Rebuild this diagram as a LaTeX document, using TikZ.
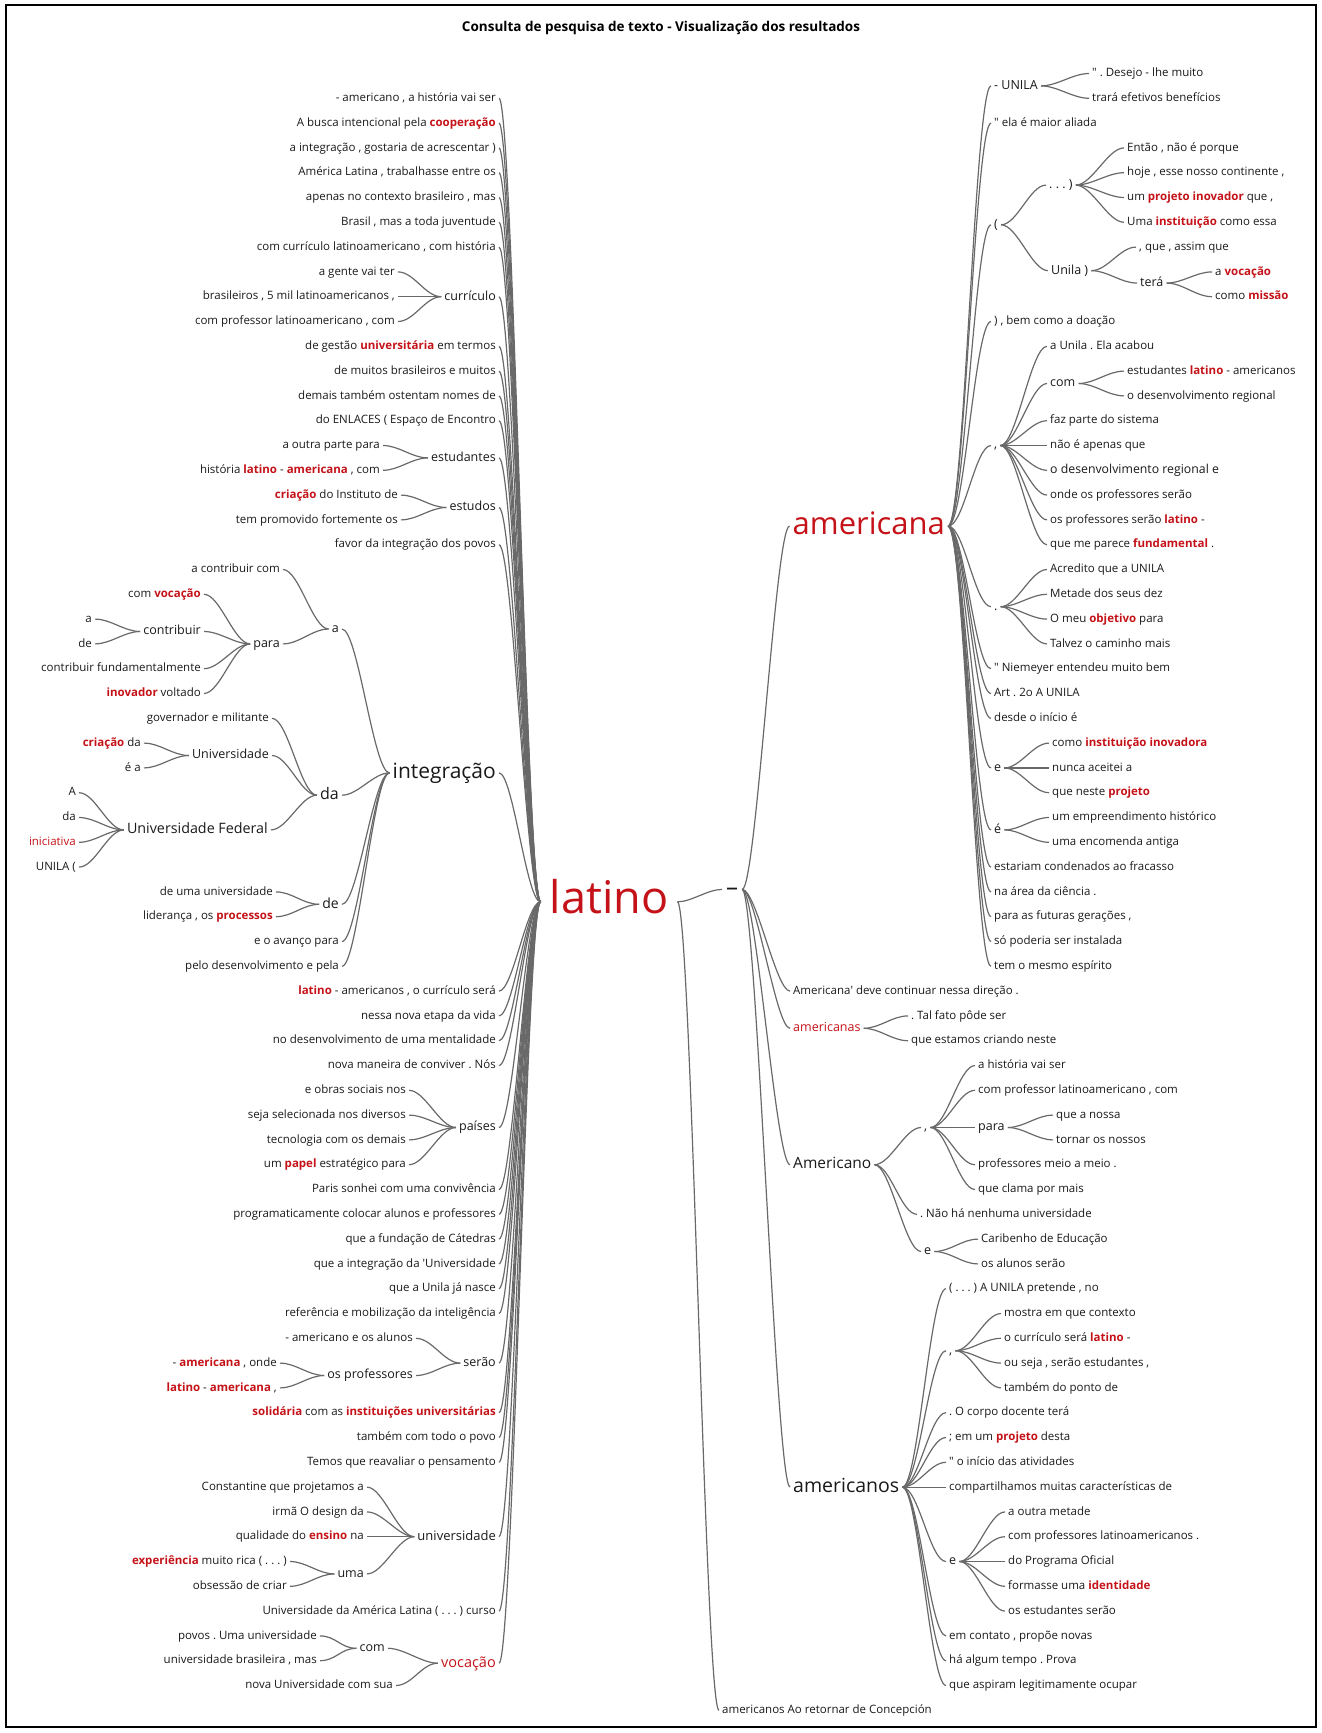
\documentclass[tikz,border=0pt]{standalone}
\usepackage{fontspec}
\setmainfont{Open Sans}
\definecolor{ink}{RGB}{25,25,25}
\definecolor{hot}{RGB}{196,18,24}
\definecolor{wire}{RGB}{105,105,105}
\newcommand\kw[1]{\textcolor{hot}{\textbf{#1}}}

\begin{document}
\frenchspacing
\begin{tikzpicture}[x=1pt, y=-24.8pt,
  every node/.style={inner xsep=3pt, inner ysep=0pt, text=ink},
  sz/.style n args={3}{font=\fontsize{#1}{#1}\selectfont, text height=#2pt, text depth=#3pt},
  leaf/.style={sz={11.5}{8.6}{2.4}},
  hub/.style={sz={12.5}{9.4}{2.6}},
  lt/.style={leaf, anchor=east},
  rt/.style={leaf, anchor=west},
  toL/.style={to path={.. controls +(-#1,0) and +(#1,0) .. (\tikztotarget)}}, toL/.default=14,
  toR/.style={to path={.. controls +(#1,0) and +(-#1,0) .. (\tikztotarget)}}, toR/.default=14,
  every edge/.style={draw=wire, line width=1.2pt}]
  \useasboundingbox (0pt,0pt) rectangle (1322pt,-1733pt);
  \draw[line width=1.5pt] (6pt,-5pt) rectangle (1316pt,-1727pt);
  \node[font=\bfseries\fontsize{13.5}{15}\selectfont, text=black] (title) at (661pt,-28pt)
    {Consulta de pesquisa de texto - Visualização dos resultados};

  \begin{scope}[yshift=-73.5pt]
  \node[sz={45}{33.8}{9.5}, text=hot, inner xsep=9pt] (latino) at (609,33.4) {latino};
  \node[sz={24}{18}{5}, inner xsep=4pt] (dash) at (732,32.9) {–};

  \node[lt] (L1) at (499,1) {- americano , a história vai ser};
  \node[lt] (L2) at (499,2) {A busca intencional pela \kw{cooperação}};
  \node[lt] (L3) at (499,3) {a integração , gostaria de acrescentar )};
  \node[lt] (L4) at (499,4) {América Latina , trabalhasse entre os};
  \node[lt] (L5) at (499,5) {apenas no contexto brasileiro , mas};
  \node[lt] (L6) at (499,6) {Brasil , mas a toda juventude};
  \node[lt] (L7) at (499,7) {com currículo latinoamericano , com história};
  \node[hub, anchor=east] (curriculo) at (499,9) {currículo};
  \node[lt] (cur1) at (398,8) {a gente vai ter};
  \node[lt] (cur2) at (398,9) {brasileiros , 5 mil latinoamericanos ,};
  \node[lt] (cur3) at (398,10) {com professor latinoamericano , com};
  \node[lt] (L11) at (499,11) {de gestão \kw{universitária} em termos};
  \node[lt] (L12) at (499,12) {de muitos brasileiros e muitos};
  \node[lt] (L13) at (499,13) {demais também ostentam nomes de};
  \node[lt] (L14) at (499,14) {do ENLACES ( Espaço de Encontro};
  \node[hub, anchor=east] (estudantes) at (499,15.5) {estudantes};
  \node[lt] (est1) at (383,15) {a outra parte para};
  \node[lt] (est2) at (383,16) {história \kw{latino} - \kw{americana} , com};
  \node[hub, anchor=east] (estudos) at (499,17.5) {estudos};
  \node[lt] (stu1) at (401,17) {\kw{criação} do Instituto de};
  \node[lt] (stu2) at (401,18) {tem promovido fortemente os};
  \node[lt] (L19) at (499,19) {favor da integração dos povos};
  \node[sz={21}{15.7}{4.4}, anchor=east] (integracao) at (499,28.2) {integração};
  \node[hub, anchor=east] (ia) at (342,22.4) {a};
  \node[lt] (ia1) at (283,20) {a contribuir com};
  \node[hub, anchor=east] (para) at (283,23) {para};
  \node[lt] (pa1) at (204,21) {com \kw{vocação}};
  \node[hub, anchor=east] (contribuir) at (204,22.5) {contribuir};
  \node[lt] (co1) at (95,22) {a};
  \node[lt] (co2) at (95,23) {de};
  \node[lt] (pa3) at (204,24) {contribuir fundamentalmente};
  \node[lt] (pa4) at (204,25) {\kw{inovador} voltado};
  \node[sz={16}{12}{3.4}, anchor=east] (da) at (342,29.1) {da};
  \node[lt] (da1) at (272,26) {governador e militante};
  \node[hub, anchor=east] (univ) at (272,27.5) {Universidade};
  \node[lt] (un1) at (144,27) {\kw{criação} da};
  \node[lt] (un2) at (144,28) {é a};
  \node[sz={14.3}{10.7}{3}, anchor=east] (unifed) at (271,30.5) {Universidade Federal};
  \node[lt] (uf1) at (79,29) {A};
  \node[lt] (uf2) at (79,30) {da};
  \node[lt, text=hot] (uf3) at (79,31) {iniciativa};
  \node[lt] (uf4) at (79,32) {UNILA (};
  \node[sz={14}{10.5}{2.9}, anchor=east] (de) at (342,33.5) {de};
  \node[lt] (de1) at (276,33) {de uma universidade};
  \node[lt] (de2) at (276,34) {liderança , os \kw{processos}};
  \node[lt] (ia4) at (342,35) {e o avanço para};
  \node[lt] (ia5) at (342,36) {pelo desenvolvimento e pela};
  \node[lt] (L37) at (499,37) {\kw{latino} - americanos , o currículo será};
  \node[lt] (L38) at (499,38) {nessa nova etapa da vida};
  \node[lt] (L39) at (499,39) {no desenvolvimento de uma mentalidade};
  \node[lt] (L40) at (499,40) {nova maneira de conviver . Nós};
  \node[hub, anchor=east] (paises) at (499,42.5) {países};
  \node[lt] (pai1) at (409,41) {e obras sociais nos};
  \node[lt] (pai2) at (409,42) {seja selecionada nos diversos};
  \node[lt] (pai3) at (409,43) {tecnologia com os demais};
  \node[lt] (pai4) at (409,44) {um \kw{papel} estratégico para};
  \node[lt] (L45) at (499,45) {Paris sonhei com uma convivência};
  \node[lt] (L46) at (499,46) {programaticamente colocar alunos e professores};
  \node[lt] (L47) at (499,47) {que a fundação de Cátedras};
  \node[lt] (L48) at (499,48) {que a integração da \textquotesingle Universidade};
  \node[lt] (L49) at (499,49) {que a Unila já nasce};
  \node[lt] (L50) at (499,50) {referência e mobilização da inteligência};
  \node[hub, anchor=east] (serao) at (499,52) {serão};
  \node[lt] (se1) at (416,51) {- americano e os alunos};
  \node[hub, anchor=east] (profs) at (416,52.5) {os professores};
  \node[lt] (pr1) at (280,52) {- \kw{americana} , onde};
  \node[lt] (pr2) at (280,53) {\kw{latino} - \kw{americana} ,};
  \node[lt] (L54) at (499,54) {\kw{solidária} com as \kw{instituições universitárias}};
  \node[lt] (L55) at (499,55) {também com todo o povo};
  \node[lt] (L56) at (499,56) {Temos que reavaliar o pensamento};
  \node[sz={13}{9.8}{2.7}, anchor=east] (universidade) at (499,59) {universidade};
  \node[lt] (uv1) at (367,57) {Constantine que projetamos a};
  \node[lt] (uv2) at (367,58) {irmã O design da};
  \node[lt] (uv3) at (367,59) {qualidade do \kw{ensino} na};
  \node[hub, anchor=east] (uma) at (367,60.5) {uma};
  \node[lt] (um1) at (290,60) {\kw{experiência} muito rica ( . . . )};
  \node[lt] (um2) at (290,61) {obsessão de criar};
  \node[lt] (L62) at (499,62) {Universidade da América Latina ( . . . ) curso};
  \node[sz={14.5}{10.9}{3}, text=hot, anchor=east] (vocacao) at (499,64.1) {vocação};
  \node[hub, anchor=east] (com) at (388,63.5) {com};
  \node[lt] (cm1) at (320,63) {povos . Uma universidade};
  \node[lt] (cm2) at (320,64) {universidade brasileira , mas};
  \node[lt] (vo2) at (396,65) {nova Universidade com sua};

  \node[sz={31}{23.3}{6.5}, text=hot, anchor=west] (americana) at (789.5,18.25) {americana};
  \node[hub, anchor=west] (unila) at (991,0.5) {- UNILA};
  \node[rt] (R0) at (1089,0) {\textquotedbl\ . Desejo - lhe muito};
  \node[rt] (R1) at (1089,1) {trará efetivos benefícios};
  \node[rt] (R2) at (991,2) {\textquotedbl\ ela é maior aliada};
  \node[hub, anchor=west] (paren) at (991,6.1) {(};
  \node[hub, anchor=west] (dots) at (1046,4.5) {. . . )};
  \node[rt] (R3) at (1124,3) {Então , não é porque};
  \node[rt] (R4) at (1124,4) {hoje , esse nosso continente ,};
  \node[rt] (R5) at (1124,5) {um \kw{projeto inovador} que ,};
  \node[rt] (R6) at (1124,6) {Uma \kw{instituição} como essa};
  \node[hub, anchor=west] (unilap) at (1048,7.95) {Unila )};
  \node[rt] (R7) at (1136,7) {, que , assim que};
  \node[hub, anchor=west] (tera) at (1137,8.45) {terá};
  \node[rt] (R8) at (1212,8) {a \kw{vocação}};
  \node[rt] (R9) at (1212,9) {como \kw{missão}};
  \node[rt] (R10) at (991,10) {) , bem como a doação};
  \node[hub, anchor=west] (comma) at (991,15) {,};
  \node[rt] (R11) at (1047,11) {a Unila . Ela acabou};
  \node[hub, anchor=west] (comA) at (1047,12.5) {com};
  \node[rt] (R12) at (1124,12) {estudantes \kw{latino} - americanos};
  \node[rt] (R13) at (1124,13) {o desenvolvimento regional};
  \node[rt] (R14) at (1047,14) {faz parte do sistema};
  \node[rt] (R15) at (1047,15) {não é apenas que};
  \node[sz={12.3}{9.2}{2.6}, anchor=west] (R16) at (1047,16) {o desenvolvimento regional e};
  \node[rt] (R17) at (1047,17) {onde os professores serão};
  \node[rt] (R18) at (1047,18) {os professores serão \kw{latino} -};
  \node[rt] (R19) at (1047,19) {que me parece \kw{fundamental} .};
  \node[hub, anchor=west] (dot) at (991,21.5) {.};
  \node[rt] (R20) at (1047,20) {Acredito que a UNILA};
  \node[rt] (R21) at (1047,21) {Metade dos seus dez};
  \node[rt] (R22) at (1047,22) {O meu \kw{objetivo} para};
  \node[rt] (R23) at (1047,23) {Talvez o caminho mais};
  \node[rt] (R24) at (991,24) {\textquotedbl\ Niemeyer entendeu muito bem};
  \node[rt] (R25) at (991,25) {Art . 2o A UNILA};
  \node[rt] (R26) at (991,26) {desde o início é};
  \node[hub, anchor=west] (eA) at (991,28) {e};
  \node[rt] (R27) at (1049,27) {como \kw{instituição inovadora}};
  \node[rt] (R28) at (1049,28) {nunca aceitei a};
  \node[rt] (R29) at (1049,29) {que neste \kw{projeto}};
  \node[hub, anchor=west] (eacute) at (991,30.5) {é};
  \node[rt] (R30) at (1049,30) {um empreendimento histórico};
  \node[rt] (R31) at (1049,31) {uma encomenda antiga};
  \node[rt] (R32) at (991,32) {estariam condenados ao fracasso};
  \node[rt] (R33) at (991,33) {na área da ciência .};
  \node[rt] (R34) at (991,34) {para as futuras gerações ,};
  \node[rt] (R35) at (991,35) {só poderia ser instalada};
  \node[rt] (R36) at (991,36) {tem o mesmo espírito};

  \node[rt] (R37) at (790,37) {Americana\textquotesingle\ deve continuar nessa direção .};
  \node[hub, text=hot, anchor=west] (amcs) at (790,38.5) {americanas};
  \node[rt] (R38) at (908,38) {. Tal fato pôde ser};
  \node[rt] (R39) at (908,39) {que estamos criando neste};
  \node[sz={15.5}{11.6}{3.3}, anchor=west] (amco) at (790,44) {Americano};
  \node[hub, anchor=west] (commaB) at (921,42.5) {,};
  \node[rt] (R40) at (975,40) {a história vai ser};
  \node[rt] (R41) at (975,41) {com professor latinoamericano , com};
  \node[hub, anchor=west] (paraB) at (975,42.5) {para};
  \node[rt] (R42) at (1053,42) {que a nossa};
  \node[rt] (R43) at (1053,43) {tornar os nossos};
  \node[rt] (R44) at (975,44) {professores meio a meio .};
  \node[rt] (R45) at (975,45) {que clama por mais};
  \node[rt] (R46) at (917,46) {. Não há nenhuma universidade};
  \node[hub, anchor=west] (eB) at (921,47.5) {e};
  \node[rt] (R47) at (978,47) {Caribenho de Educação};
  \node[rt] (R48) at (978,48) {os alunos serão};
  \node[sz={19.5}{14.6}{4.1}, anchor=west] (amcos) at (790,57) {americanos};
  \node[rt] (R49) at (946,49) {( . . . ) A UNILA pretende , no};
  \node[hub, anchor=west] (commaC) at (946,51.5) {,};
  \node[rt] (R50) at (1001,50) {mostra em que contexto};
  \node[rt] (R51) at (1001,51) {o currículo será \kw{latino} -};
  \node[rt] (R52) at (1001,52) {ou seja , serão estudantes ,};
  \node[rt] (R53) at (1001,53) {também do ponto de};
  \node[rt] (R54) at (946,54) {. O corpo docente terá};
  \node[rt] (R55) at (946,55) {; em um \kw{projeto} desta};
  \node[rt] (R56) at (946,56) {\textquotedbl\ o início das atividades};
  \node[rt] (R57) at (946,57) {compartilhamos muitas características de};
  \node[hub, anchor=west] (eC) at (946,60) {e};
  \node[rt] (R58) at (1005,58) {a outra metade};
  \node[rt] (R59) at (1005,59) {com professores latinoamericanos .};
  \node[rt] (R60) at (1005,60) {do Programa Oficial};
  \node[rt] (R61) at (1005,61) {formasse uma \kw{identidade}};
  \node[rt] (R62) at (1005,62) {os estudantes serão};
  \node[rt] (R63) at (946,63) {em contato , propõe novas};
  \node[rt] (R64) at (946,64) {há algum tempo . Prova};
  \node[rt] (R65) at (946,65) {que aspiram legitimamente ocupar};
  \node[rt] (tail) at (719,66) {americanos Ao retornar de Concepción};

  \path[toL] (latino.west) edge (L1.east) edge (L2.east) edge (L3.east) edge (L4.east)
    edge (L5.east) edge (L6.east) edge (L7.east) edge (curriculo.east) edge (L11.east)
    edge (L12.east) edge (L13.east) edge (L14.east) edge (estudantes.east) edge (estudos.east)
    edge (L19.east) edge (integracao.east) edge (L37.east) edge (L38.east) edge (L39.east)
    edge (L40.east) edge (paises.east) edge (L45.east) edge (L46.east) edge (L47.east)
    edge (L48.east) edge (L49.east) edge (L50.east) edge (serao.east) edge (L54.east)
    edge (L55.east) edge (L56.east) edge (universidade.east) edge (L62.east) edge (vocacao.east);
  \path[toL=16] (curriculo.west) edge (cur1.east) edge (cur2.east) edge (cur3.east);
  \path[toL=16] (estudantes.west) edge (est1.east) edge (est2.east);
  \path[toL=16] (estudos.west) edge (stu1.east) edge (stu2.east);
  \path[toL=16] (integracao.west) edge (ia.east) edge (da.east) edge (de.east) edge (ia4.east) edge (ia5.east);
  \path[toL=16] (ia.west) edge (ia1.east) edge (para.east);
  \path[toL=16] (para.west) edge (pa1.east) edge (contribuir.east) edge (pa3.east) edge (pa4.east);
  \path[toL=16] (contribuir.west) edge (co1.east) edge (co2.east);
  \path[toL=16] (da.west) edge (da1.east) edge (univ.east) edge (unifed.east);
  \path[toL=16] (univ.west) edge (un1.east) edge (un2.east);
  \path[toL=16] (unifed.west) edge (uf1.east) edge (uf2.east) edge (uf3.east) edge (uf4.east);
  \path[toL=16] (de.west) edge (de1.east) edge (de2.east);
  \path[toL=16] (paises.west) edge (pai1.east) edge (pai2.east) edge (pai3.east) edge (pai4.east);
  \path[toL=16] (serao.west) edge (se1.east) edge (profs.east);
  \path[toL=16] (profs.west) edge (pr1.east) edge (pr2.east);
  \path[toL=16] (universidade.west) edge (uv1.east) edge (uv2.east) edge (uv3.east) edge (uma.east);
  \path[toL=16] (uma.west) edge (um1.east) edge (um2.east);
  \path[toL=16] (vocacao.west) edge (com.east) edge (vo2.east);
  \path[toL=16] (com.west) edge (cm1.east) edge (cm2.east);

  \path[toR] (latino.east) edge (dash.west) edge (tail.west);
  \path[toR] (dash.east) edge (americana.west) edge (R37.west) edge (amcs.west) edge (amco.west) edge (amcos.west);
  \path[toR=16] (americana.east) edge (unila.west) edge (R2.west) edge (paren.west) edge (R10.west)
    edge (comma.west) edge (dot.west) edge (R24.west) edge (R25.west) edge (R26.west) edge (eA.west)
    edge (eacute.west) edge (R32.west) edge (R33.west) edge (R34.west) edge (R35.west) edge (R36.west);
  \path[toR=16] (unila.east) edge (R0.west) edge (R1.west);
  \path[toR=16] (paren.east) edge (dots.west) edge (unilap.west);
  \path[toR=16] (dots.east) edge (R3.west) edge (R4.west) edge (R5.west) edge (R6.west);
  \path[toR=16] (unilap.east) edge (R7.west) edge (tera.west);
  \path[toR=16] (tera.east) edge (R8.west) edge (R9.west);
  \path[toR=16] (comma.east) edge (R11.west) edge (comA.west) edge (R14.west) edge (R15.west)
    edge (R16.west) edge (R17.west) edge (R18.west) edge (R19.west);
  \path[toR=16] (comA.east) edge (R12.west) edge (R13.west);
  \path[toR=16] (dot.east) edge (R20.west) edge (R21.west) edge (R22.west) edge (R23.west);
  \path[toR=16] (eA.east) edge (R27.west) edge (R28.west) edge (R29.west);
  \path[toR=16] (eacute.east) edge (R30.west) edge (R31.west);
  \path[toR=16] (amcs.east) edge (R38.west) edge (R39.west);
  \path[toR=16] (amco.east) edge (commaB.west) edge (R46.west) edge (eB.west);
  \path[toR=16] (commaB.east) edge (R40.west) edge (R41.west) edge (paraB.west) edge (R44.west) edge (R45.west);
  \path[toR=16] (paraB.east) edge (R42.west) edge (R43.west);
  \path[toR=16] (eB.east) edge (R47.west) edge (R48.west);
  \path[toR=16] (amcos.east) edge (R49.west) edge (commaC.west) edge (R54.west) edge (R55.west)
    edge (R56.west) edge (R57.west) edge (eC.west) edge (R63.west) edge (R64.west) edge (R65.west);
  \path[toR=16] (commaC.east) edge (R50.west) edge (R51.west) edge (R52.west) edge (R53.west);
  \path[toR=16] (eC.east) edge (R58.west) edge (R59.west) edge (R60.west) edge (R61.west) edge (R62.west);
  \end{scope}
\end{tikzpicture}
\end{document}
